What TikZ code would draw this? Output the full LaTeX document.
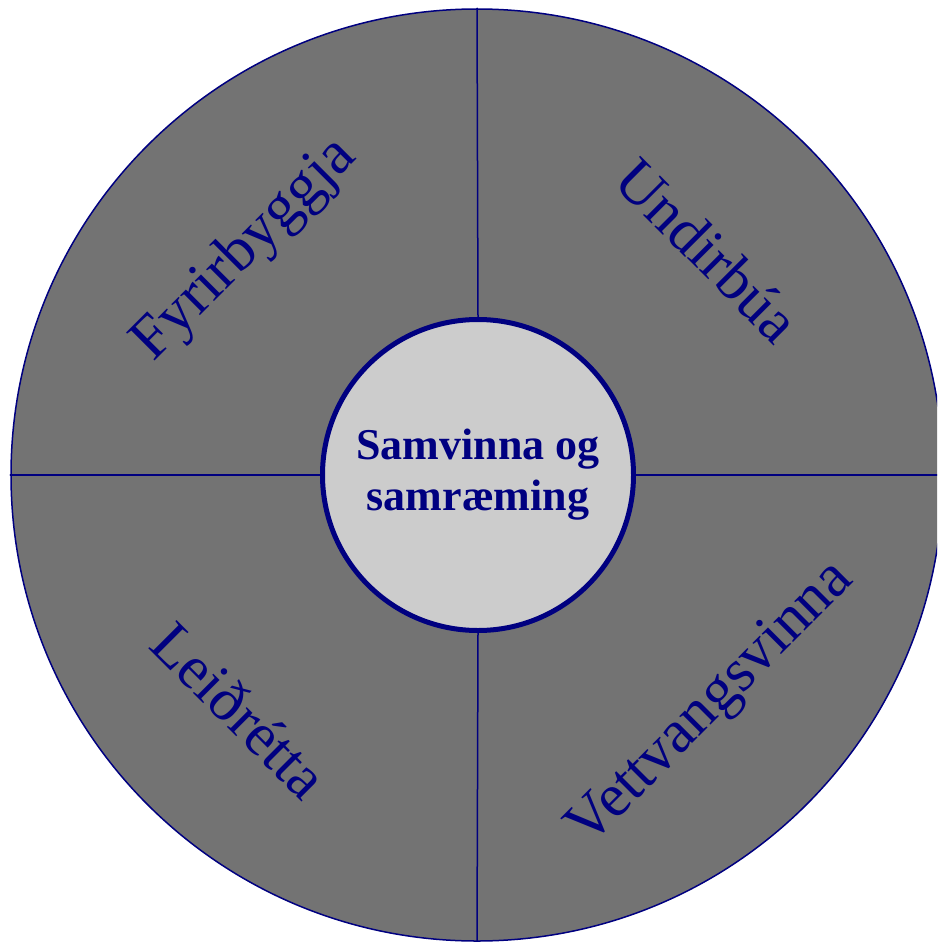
\documentclass[tikz,border=0pt]{standalone}
\usepackage{fontspec}
\setmainfont{Liberation Serif}
\usepackage{tikz}
\definecolor{qqqqtt}{rgb}{0.,0.,0.5}
\definecolor{wwwwww}{rgb}{0.45,0.45,0.45}
\definecolor{cccccc}{rgb}{0.8,0.8,0.8}
\tikzset{
  sector/.style={text=qqqqtt,font=\fontsize{61}{70}\selectfont,inner sep=0pt},
  hubtext/.style={text=qqqqtt,font=\fontsize{44}{51}\selectfont\bfseries,align=center}
}
\begin{document}
\begin{tikzpicture}[line cap=round,line join=round,x=1pt,y=-1pt]
\useasboundingbox (0,0) rectangle (937,942);
\clip (0,0) rectangle (937,942);
\node[circle,draw=qqqqtt,fill=wwwwww,line width=1.5pt,minimum size=932pt,inner sep=0pt] (wheel) at (477,475) {};
\node[circle,draw=qqqqtt,fill=cccccc,line width=5pt,minimum size=311pt,inner sep=0pt,hubtext] (hub) at (478,475) {Samvinna og\\samræming};
\draw[qqqqtt,line width=1.5pt] (hub.north) -- (wheel.north);
\draw[qqqqtt,line width=1.5pt] (hub.south) -- (wheel.south);
\draw[qqqqtt,line width=1.5pt] (hub.west) -- (wheel.west);
\draw[qqqqtt,line width=1.5pt] (hub.east) -- (wheel.east);
\node[sector,rotate=45] (prevent) at (245,250) {Fyrirbyggja};
\node[sector,rotate=-45] (prepare) at (708,250) {Undirbúa};
\node[sector,rotate=-45] (correct) at (240,710) {Leiðrétta};
\node[sector,rotate=45] (field) at (712,705) {Vettvangsvinna};
\end{tikzpicture}
\end{document}
